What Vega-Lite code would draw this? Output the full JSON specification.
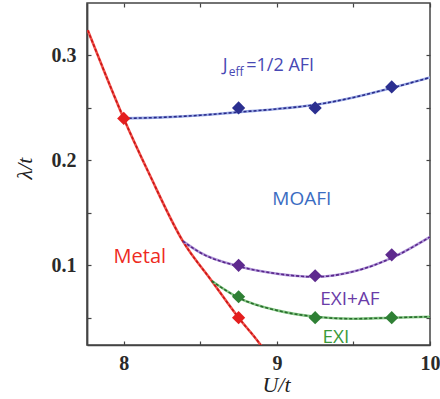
{
  "$schema": "https://vega.github.io/schema/vega-lite/v6.json",
  "autosize": "none",
  "width": 343,
  "height": 342,
  "padding": {"left": 87, "top": 3, "right": 10, "bottom": 54},
  "background": "white",
  "config": {
    "view": {"stroke": "#444", "strokeWidth": 1.5},
    "axis": {"grid": false}
  },
  "datasets": {
    "curves": [
      {"series": "Metal", "u": 7.765, "lambda": 0.324},
      {"series": "Metal", "u": 7.85, "lambda": 0.293},
      {"series": "Metal", "u": 8.0, "lambda": 0.24},
      {"series": "Metal", "u": 8.17, "lambda": 0.186},
      {"series": "Metal", "u": 8.386, "lambda": 0.123},
      {"series": "Metal", "u": 8.575, "lambda": 0.085},
      {"series": "Metal", "u": 8.75, "lambda": 0.05},
      {"series": "Metal", "u": 8.889, "lambda": 0.025},
      {"series": "Metal", "u": 8.95, "lambda": 0.012},
      {"series": "AFI", "u": 8.0, "lambda": 0.24},
      {"series": "AFI", "u": 8.25, "lambda": 0.241},
      {"series": "AFI", "u": 8.5, "lambda": 0.243},
      {"series": "AFI", "u": 8.75, "lambda": 0.246},
      {"series": "AFI", "u": 9.0, "lambda": 0.249},
      {"series": "AFI", "u": 9.25, "lambda": 0.253},
      {"series": "AFI", "u": 9.5, "lambda": 0.26},
      {"series": "AFI", "u": 9.75, "lambda": 0.269},
      {"series": "AFI", "u": 10.0, "lambda": 0.279},
      {"series": "EXIAF", "u": 8.386, "lambda": 0.123},
      {"series": "EXIAF", "u": 8.5, "lambda": 0.112},
      {"series": "EXIAF", "u": 8.75, "lambda": 0.099},
      {"series": "EXIAF", "u": 9.0, "lambda": 0.092},
      {"series": "EXIAF", "u": 9.25, "lambda": 0.089},
      {"series": "EXIAF", "u": 9.5, "lambda": 0.094},
      {"series": "EXIAF", "u": 9.75, "lambda": 0.107},
      {"series": "EXIAF", "u": 10.0, "lambda": 0.127},
      {"series": "EXI", "u": 8.575, "lambda": 0.085},
      {"series": "EXI", "u": 8.75, "lambda": 0.069},
      {"series": "EXI", "u": 9.0, "lambda": 0.057},
      {"series": "EXI", "u": 9.25, "lambda": 0.051},
      {"series": "EXI", "u": 9.5, "lambda": 0.049},
      {"series": "EXI", "u": 9.75, "lambda": 0.05},
      {"series": "EXI", "u": 10.0, "lambda": 0.051}
    ],
    "points": [
      {"series": "Metal", "u": 8.0, "lambda": 0.24},
      {"series": "Metal", "u": 8.75, "lambda": 0.05},
      {"series": "AFI", "u": 8.75, "lambda": 0.25},
      {"series": "AFI", "u": 9.25, "lambda": 0.25},
      {"series": "AFI", "u": 9.75, "lambda": 0.27},
      {"series": "EXIAF", "u": 8.75, "lambda": 0.1},
      {"series": "EXIAF", "u": 9.25, "lambda": 0.09},
      {"series": "EXIAF", "u": 9.75, "lambda": 0.11},
      {"series": "EXI", "u": 8.75, "lambda": 0.07},
      {"series": "EXI", "u": 9.25, "lambda": 0.05},
      {"series": "EXI", "u": 9.75, "lambda": 0.05}
    ],
    "labels": [
      {"label": "J", "u": 8.647, "lambda": 0.2848},
      {"label": "eff", "u": 8.686, "lambda": 0.2805},
      {"label": "=1/2 AFI", "u": 8.8, "lambda": 0.2848},
      {"label": "MOAFI", "u": 9.163, "lambda": 0.157},
      {"label": "Metal", "u": 8.105, "lambda": 0.102},
      {"label": "EXI+AF", "u": 9.477, "lambda": 0.062},
      {"label": "EXI", "u": 9.386, "lambda": 0.026}
    ]
  },
  "layer": [
    {
      "data": {"name": "curves"},
      "mark": {"type": "line", "strokeWidth": 2.6, "clip": true, "interpolate": "monotone"},
      "encoding": {
        "x": {
          "field": "u", "type": "quantitative",
          "scale": {"domain": [7.76, 10], "nice": false, "zero": false},
          "axis": {
            "orient": "bottom",
            "values": [8, 8.5, 9, 9.5, 10],
            "labelExpr": "round(datum.value*2)%2==0 ? format(datum.value,'d') : ''",
            "labelFont": "Liberation Serif", "labelFontSize": 20, "labelFontWeight": "bold", "labelColor": "#2a2a2a",
            "labelPadding": 12, "labelFlush": false, "labelOverlap": false,
            "tickSize": -4, "tickColor": "#444", "tickWidth": 1.2,
            "domainColor": "#444", "domainWidth": 1.6,
            "title": "U/t", "titleFont": "Liberation Serif", "titleFontStyle": "italic",
            "titleFontWeight": "normal", "titleFontSize": 22, "titleColor": "#222",
            "titleX": 189, "titleY": 46, "titleAlign": "center", "titleBaseline": "alphabetic"
          }
        },
        "y": {
          "field": "lambda", "type": "quantitative",
          "scale": {"domain": [0.024, 0.35], "nice": false, "zero": false},
          "axis": {
            "orient": "left",
            "values": [0.05, 0.1, 0.15, 0.2, 0.25, 0.3],
            "labelExpr": "round(datum.value*20)%2==0 ? format(datum.value,'.1f') : ''",
            "labelFont": "Liberation Serif", "labelFontSize": 20, "labelFontWeight": "bold", "labelColor": "#2a2a2a",
            "labelPadding": 15, "labelOverlap": false,
            "tickSize": -4, "tickColor": "#444", "tickWidth": 1.2,
            "domainColor": "#444", "domainWidth": 1.8,
            "title": "λ/t", "titleFont": "Liberation Serif", "titleFontStyle": "italic",
            "titleFontWeight": "normal", "titleFontSize": 22, "titleColor": "#222",
            "titleX": -63, "titleY": 165, "titleAlign": "center", "titleBaseline": "middle"
          }
        },
        "color": {
          "field": "series", "type": "nominal", "legend": null,
          "scale": {"domain": ["Metal", "AFI", "EXIAF", "EXI"], "range": ["#f2504a", "#9aaae6", "#b096d8", "#86c886"]}
        },
        "detail": {"field": "series"}
      }
    },
    {
      "data": {"name": "curves"},
      "mark": {"type": "line", "strokeWidth": 1.6, "strokeDash": [3, 2], "clip": true, "interpolate": "monotone"},
      "encoding": {
        "x": {
          "field": "u", "type": "quantitative",
          "axis": {
            "orient": "top", "values": [8, 8.5, 9, 9.5, 10], "labels": false, "domain": false,
            "tickSize": -4, "tickColor": "#444", "tickWidth": 1.2, "title": null
          }
        },
        "y": {
          "field": "lambda", "type": "quantitative",
          "axis": {
            "orient": "right", "values": [0.05, 0.1, 0.15, 0.2, 0.25, 0.3], "labels": false, "domain": false,
            "tickSize": -4, "tickColor": "#444", "tickWidth": 1.2, "title": null
          }
        },
        "stroke": {
          "field": "series", "type": "nominal", "legend": null,
          "scale": {"domain": ["Metal", "AFI", "EXIAF", "EXI"], "range": ["#c81818", "#2a2a88", "#58268a", "#286a2c"]}
        },
        "detail": {"field": "series"}
      }
    },
    {
      "data": {"name": "points"},
      "mark": {"type": "point", "shape": "diamond", "filled": true, "size": 175, "opacity": 1},
      "encoding": {
        "x": {"field": "u", "type": "quantitative", "axis": null},
        "y": {"field": "lambda", "type": "quantitative", "axis": null},
        "fill": {
          "field": "series", "type": "nominal", "legend": null,
          "scale": {"domain": ["Metal", "AFI", "EXIAF", "EXI"], "range": ["#e41e1e", "#2b2f90", "#5e2a8e", "#2f8035"]}
        }
      }
    },
    {
      "data": {"name": "labels"},
      "transform": [{"filter": "datum.label == 'J' || datum.label == '=1/2 AFI'"}],
      "mark": {"type": "text", "align": "left", "baseline": "alphabetic", "font": "Open Sans", "fontSize": 18, "color": "#4848b4"},
      "encoding": {
        "x": {"field": "u", "type": "quantitative", "axis": null},
        "y": {"field": "lambda", "type": "quantitative", "axis": null},
        "text": {"field": "label"}
      }
    },
    {
      "data": {"name": "labels"},
      "transform": [{"filter": "datum.label == 'eff'"}],
      "mark": {"type": "text", "align": "left", "baseline": "alphabetic", "font": "Open Sans", "fontSize": 12, "color": "#4848b4"},
      "encoding": {
        "x": {"field": "u", "type": "quantitative", "axis": null},
        "y": {"field": "lambda", "type": "quantitative", "axis": null},
        "text": {"field": "label"}
      }
    },
    {
      "data": {"name": "labels"},
      "transform": [{"filter": "datum.label == 'MOAFI'"}],
      "mark": {"type": "text", "align": "center", "baseline": "alphabetic", "font": "Open Sans", "fontSize": 19, "color": "#3a6cc2"},
      "encoding": {
        "x": {"field": "u", "type": "quantitative", "axis": null},
        "y": {"field": "lambda", "type": "quantitative", "axis": null},
        "text": {"field": "label"}
      }
    },
    {
      "data": {"name": "labels"},
      "transform": [{"filter": "datum.label == 'Metal'"}],
      "mark": {"type": "text", "align": "center", "baseline": "alphabetic", "font": "Open Sans", "fontSize": 20, "color": "#ee2a22"},
      "encoding": {
        "x": {"field": "u", "type": "quantitative", "axis": null},
        "y": {"field": "lambda", "type": "quantitative", "axis": null},
        "text": {"field": "label"}
      }
    },
    {
      "data": {"name": "labels"},
      "transform": [{"filter": "datum.label == 'EXI+AF'"}],
      "mark": {"type": "text", "align": "center", "baseline": "alphabetic", "font": "Open Sans", "fontSize": 19, "color": "#6a3ca8"},
      "encoding": {
        "x": {"field": "u", "type": "quantitative", "axis": null},
        "y": {"field": "lambda", "type": "quantitative", "axis": null},
        "text": {"field": "label"}
      }
    },
    {
      "data": {"name": "labels"},
      "transform": [{"filter": "datum.label == 'EXI'"}],
      "mark": {"type": "text", "align": "center", "baseline": "alphabetic", "font": "Open Sans", "fontSize": 19, "color": "#3a9a3a"},
      "encoding": {
        "x": {"field": "u", "type": "quantitative", "axis": null},
        "y": {"field": "lambda", "type": "quantitative", "axis": null},
        "text": {"field": "label"}
      }
    }
  ]
}
